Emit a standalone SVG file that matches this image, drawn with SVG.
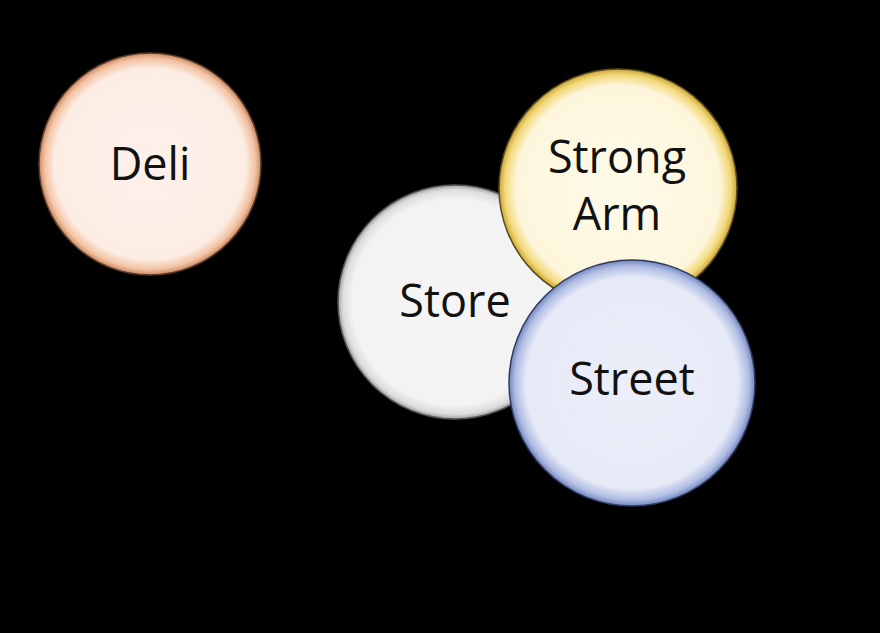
<svg xmlns="http://www.w3.org/2000/svg" width="880" height="633" viewBox="0 0 880 633">
<style>
text{font-family:"Open Sans","Noto Sans","Liberation Sans",sans-serif;font-size:45px;fill:#111;text-anchor:middle}
.c{stroke-width:1.5}
</style>
<defs>
<radialGradient id="gDeli" cx="0.5" cy="0.5" r="0.5">
<stop offset="0" stop-color="#fdf1ea"/><stop offset="0.86" stop-color="#fcede4"/><stop offset="0.95" stop-color="#f3c2a2"/><stop offset="1" stop-color="#c98a63"/>
</radialGradient>
<radialGradient id="gStore" cx="0.5" cy="0.5" r="0.5">
<stop offset="0" stop-color="#f5f5f5"/><stop offset="0.88" stop-color="#f3f3f3"/><stop offset="0.96" stop-color="#dcdcdc"/><stop offset="1" stop-color="#a0a0a0"/>
</radialGradient>
<radialGradient id="gArm" cx="0.5" cy="0.5" r="0.5">
<stop offset="0" stop-color="#fffbea"/><stop offset="0.86" stop-color="#fdf6dc"/><stop offset="0.95" stop-color="#f2d878"/><stop offset="1" stop-color="#c9a53a"/>
</radialGradient>
<radialGradient id="gStreet" cx="0.5" cy="0.5" r="0.5">
<stop offset="0" stop-color="#eceff9"/><stop offset="0.86" stop-color="#e6eaf7"/><stop offset="0.95" stop-color="#b0bde3"/><stop offset="1" stop-color="#7285bf"/>
</radialGradient>
</defs>
<rect width="880" height="633" fill="#000"/>
<g id="deli">
<circle class="c" cx="150" cy="164" r="111" fill="url(#gDeli)" stroke="#5a3a28"/>
<text x="150" y="180">Deli</text>
</g>
<g id="store">
<circle class="c" cx="455" cy="302" r="117" fill="url(#gStore)" stroke="#555"/>
<text x="455" y="317">Store</text>
</g>
<g id="strongarm">
<circle class="c" cx="618" cy="188" r="119" fill="url(#gArm)" stroke="#5a4a1a"/>
<text x="617" y="173">Strong</text>
<text x="617" y="230">Arm</text>
</g>
<g id="street">
<circle class="c" cx="632" cy="383" r="123" fill="url(#gStreet)" stroke="#2e3a5e"/>
<text x="632" y="395">Street</text>
</g>
<g id="connectors"/>
</svg>
